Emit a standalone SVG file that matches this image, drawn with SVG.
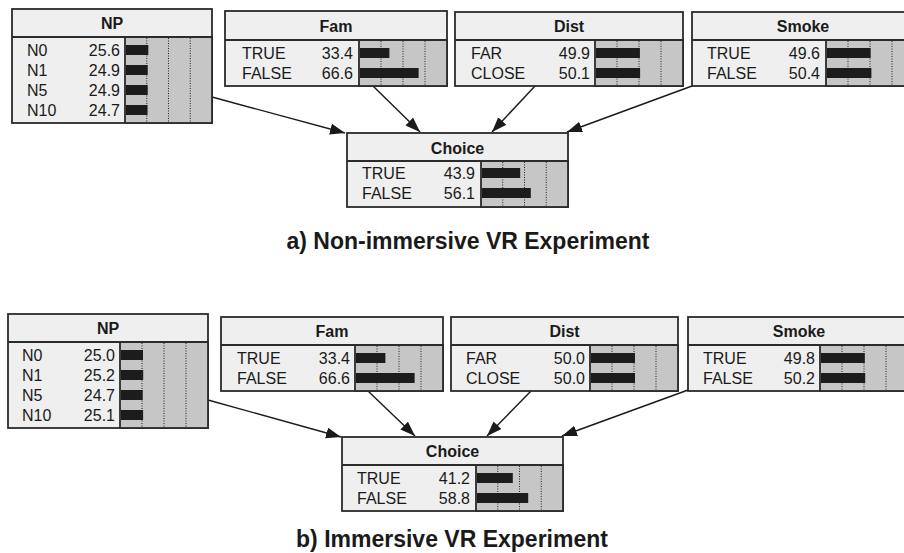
<svg xmlns="http://www.w3.org/2000/svg" width="904" height="553" viewBox="0 0 904 553">
  <style>
    .box { fill: #efefef; stroke: #2b2b2b; stroke-width: 1.8; }
    .sep { stroke: #2b2b2b; stroke-width: 1.8; fill: none; }
    .meter { fill: #c6c6c6; stroke: #2b2b2b; stroke-width: 1.8; }
    .tick { stroke: #222; stroke-width: 1; stroke-dasharray: 1 1.5; }
    .bar { fill: #1c1c1c; }
    .hdr { font-family: "Liberation Sans", Arial, sans-serif; font-weight: bold; font-size: 16px; fill: #1a1a1a; text-anchor: middle; }
    .lbl { font-family: "Liberation Sans", Arial, sans-serif; font-size: 16px; fill: #1a1a1a; }
    .val { font-family: "Liberation Sans", Arial, sans-serif; font-size: 16px; fill: #1a1a1a; text-anchor: end; }
    .edge { stroke: #1a1a1a; stroke-width: 1.4; fill: none; marker-end: url(#arrow); }
    .title { font-family: "Liberation Sans", Arial, sans-serif; font-weight: bold; font-size: 23px; fill: #1a1a1a; text-anchor: middle; }
  </style>
  <defs>
    <marker id="arrow" markerUnits="userSpaceOnUse" markerWidth="16" markerHeight="12" refX="15" refY="5.5" orient="auto">
      <path d="M0,0 L15,5.5 L0,11 z" fill="#1a1a1a"/>
    </marker>
  </defs>
  <rect width="904" height="553" fill="#ffffff"/>

  <!-- a) upper network -->
  <g id="edges-a">
    <line class="edge" x1="212" y1="97" x2="345" y2="133"/>
    <line class="edge" x1="373" y1="86" x2="420" y2="132"/>
    <line class="edge" x1="535" y1="86" x2="492" y2="132"/>
    <line class="edge" x1="692" y1="86" x2="567" y2="132"/>
  </g>

  <g id="np-a" transform="translate(12,9)">
    <rect class="box" x="0" y="0" width="200" height="114"/>
    <rect class="meter" x="113" y="28" width="87" height="86"/>
    <line class="sep" x1="0" y1="28" x2="200" y2="28"/>
    <line class="tick" x1="134.75" y1="29" x2="134.75" y2="113"/>
    <line class="tick" x1="156.5" y1="29" x2="156.5" y2="113"/>
    <line class="tick" x1="178.25" y1="29" x2="178.25" y2="113"/>
    <rect class="bar" x="114" y="36" width="22.3" height="10"/>
    <rect class="bar" x="114" y="56" width="21.7" height="10"/>
    <rect class="bar" x="114" y="76" width="21.7" height="10"/>
    <rect class="bar" x="114" y="96" width="21.5" height="10"/>
    <text class="hdr" x="100" y="20">NP</text>
    <text class="lbl" x="15" y="47">N0</text><text class="val" x="108" y="47">25.6</text>
    <text class="lbl" x="15" y="67">N1</text><text class="val" x="108" y="67">24.9</text>
    <text class="lbl" x="15" y="87">N5</text><text class="val" x="108" y="87">24.9</text>
    <text class="lbl" x="15" y="107">N10</text><text class="val" x="108" y="107">24.7</text>
  </g>

  <g id="fam-a" transform="translate(225,11)">
    <rect class="box" x="0" y="0" width="222" height="75"/>
    <rect class="meter" x="134" y="29" width="88" height="46"/>
    <line class="sep" x1="0" y1="29" x2="222" y2="29"/>
    <line class="tick" x1="156" y1="30" x2="156" y2="74"/>
    <line class="tick" x1="178" y1="30" x2="178" y2="74"/>
    <line class="tick" x1="200" y1="30" x2="200" y2="74"/>
    <rect class="bar" x="135" y="37" width="29.4" height="10"/>
    <rect class="bar" x="135" y="57" width="58.6" height="10"/>
    <text class="hdr" x="111" y="21">Fam</text>
    <text class="lbl" x="17" y="48">TRUE</text><text class="val" x="128" y="48">33.4</text>
    <text class="lbl" x="17" y="68">FALSE</text><text class="val" x="128" y="68">66.6</text>
  </g>

  <g id="dist-a" transform="translate(455,12)">
    <rect class="box" x="0" y="0" width="228" height="74"/>
    <rect class="meter" x="140" y="28" width="88" height="46"/>
    <line class="sep" x1="0" y1="28" x2="228" y2="28"/>
    <line class="tick" x1="162" y1="29" x2="162" y2="73"/>
    <line class="tick" x1="184" y1="29" x2="184" y2="73"/>
    <line class="tick" x1="206" y1="29" x2="206" y2="73"/>
    <rect class="bar" x="141" y="36" width="43.9" height="10"/>
    <rect class="bar" x="141" y="56" width="44.1" height="10"/>
    <text class="hdr" x="114" y="20">Dist</text>
    <text class="lbl" x="16" y="47">FAR</text><text class="val" x="135" y="47">49.9</text>
    <text class="lbl" x="16" y="67">CLOSE</text><text class="val" x="135" y="67">50.1</text>
  </g>

  <g id="smoke-a" transform="translate(692,12)">
    <rect class="box" x="0" y="0" width="222" height="74"/>
    <rect class="meter" x="134" y="28" width="88" height="46"/>
    <line class="sep" x1="0" y1="28" x2="222" y2="28"/>
    <line class="tick" x1="156" y1="29" x2="156" y2="73"/>
    <line class="tick" x1="178" y1="29" x2="178" y2="73"/>
    <line class="tick" x1="200" y1="29" x2="200" y2="73"/>
    <rect class="bar" x="135" y="36" width="43.6" height="10"/>
    <rect class="bar" x="135" y="56" width="44.4" height="10"/>
    <text class="hdr" x="111" y="20">Smoke</text>
    <text class="lbl" x="15" y="47">TRUE</text><text class="val" x="128" y="47">49.6</text>
    <text class="lbl" x="15" y="67">FALSE</text><text class="val" x="128" y="67">50.4</text>
  </g>

  <g id="choice-a" transform="translate(347,133)">
    <rect class="box" x="0" y="0" width="221" height="74"/>
    <rect class="meter" x="134" y="28" width="87" height="46"/>
    <line class="sep" x1="0" y1="28" x2="221" y2="28"/>
    <line class="tick" x1="155.75" y1="29" x2="155.75" y2="73"/>
    <line class="tick" x1="177.5" y1="29" x2="177.5" y2="73"/>
    <line class="tick" x1="199.25" y1="29" x2="199.25" y2="73"/>
    <rect class="bar" x="135" y="35" width="38.2" height="10"/>
    <rect class="bar" x="135" y="55" width="48.8" height="10"/>
    <text class="hdr" x="110.5" y="21">Choice</text>
    <text class="lbl" x="15" y="46">TRUE</text><text class="val" x="128" y="46">43.9</text>
    <text class="lbl" x="15" y="66">FALSE</text><text class="val" x="128" y="66">56.1</text>
  </g>

  <text class="title" x="468" y="249">a) Non-immersive VR Experiment</text>

  <!-- b) lower network -->
  <g id="edges-b">
    <line class="edge" x1="208" y1="400" x2="341" y2="437"/>
    <line class="edge" x1="368" y1="391" x2="415" y2="436"/>
    <line class="edge" x1="531" y1="391" x2="487" y2="436"/>
    <line class="edge" x1="688" y1="390" x2="562" y2="436"/>
  </g>

  <g id="np-b" transform="translate(8,314)">
    <rect class="box" x="0" y="0" width="200" height="114"/>
    <rect class="meter" x="112" y="28" width="88" height="86"/>
    <line class="sep" x1="0" y1="28" x2="200" y2="28"/>
    <line class="tick" x1="134" y1="29" x2="134" y2="113"/>
    <line class="tick" x1="156" y1="29" x2="156" y2="113"/>
    <line class="tick" x1="178" y1="29" x2="178" y2="113"/>
    <rect class="bar" x="113" y="36" width="22" height="10"/>
    <rect class="bar" x="113" y="56" width="22.2" height="10"/>
    <rect class="bar" x="113" y="76" width="21.7" height="10"/>
    <rect class="bar" x="113" y="96" width="22.1" height="10"/>
    <text class="hdr" x="100" y="20">NP</text>
    <text class="lbl" x="14" y="47">N0</text><text class="val" x="107" y="47">25.0</text>
    <text class="lbl" x="14" y="67">N1</text><text class="val" x="107" y="67">25.2</text>
    <text class="lbl" x="14" y="87">N5</text><text class="val" x="107" y="87">24.7</text>
    <text class="lbl" x="14" y="107">N10</text><text class="val" x="107" y="107">25.1</text>
  </g>

  <g id="fam-b" transform="translate(221,317)">
    <rect class="box" x="0" y="0" width="222" height="74"/>
    <rect class="meter" x="134" y="28" width="88" height="46"/>
    <line class="sep" x1="0" y1="28" x2="222" y2="28"/>
    <line class="tick" x1="156" y1="29" x2="156" y2="73"/>
    <line class="tick" x1="178" y1="29" x2="178" y2="73"/>
    <line class="tick" x1="200" y1="29" x2="200" y2="73"/>
    <rect class="bar" x="135" y="36" width="29.4" height="10"/>
    <rect class="bar" x="135" y="56" width="58.6" height="10"/>
    <text class="hdr" x="111" y="20">Fam</text>
    <text class="lbl" x="16" y="47">TRUE</text><text class="val" x="129" y="47">33.4</text>
    <text class="lbl" x="16" y="67">FALSE</text><text class="val" x="129" y="67">66.6</text>
  </g>

  <g id="dist-b" transform="translate(451,317)">
    <rect class="box" x="0" y="0" width="227" height="74"/>
    <rect class="meter" x="139" y="28" width="88" height="46"/>
    <line class="sep" x1="0" y1="28" x2="227" y2="28"/>
    <line class="tick" x1="161" y1="29" x2="161" y2="73"/>
    <line class="tick" x1="183" y1="29" x2="183" y2="73"/>
    <line class="tick" x1="205" y1="29" x2="205" y2="73"/>
    <rect class="bar" x="140" y="36" width="44" height="10"/>
    <rect class="bar" x="140" y="56" width="44" height="10"/>
    <text class="hdr" x="113.5" y="20">Dist</text>
    <text class="lbl" x="15" y="47">FAR</text><text class="val" x="134" y="47">50.0</text>
    <text class="lbl" x="15" y="67">CLOSE</text><text class="val" x="134" y="67">50.0</text>
  </g>

  <g id="smoke-b" transform="translate(688,317)">
    <rect class="box" x="0" y="0" width="222" height="74"/>
    <rect class="meter" x="132" y="28" width="88" height="46"/>
    <line class="sep" x1="0" y1="28" x2="222" y2="28"/>
    <line class="tick" x1="154" y1="29" x2="154" y2="73"/>
    <line class="tick" x1="176" y1="29" x2="176" y2="73"/>
    <line class="tick" x1="198" y1="29" x2="198" y2="73"/>
    <rect class="bar" x="133" y="36" width="43.8" height="10"/>
    <rect class="bar" x="133" y="56" width="44.2" height="10"/>
    <text class="hdr" x="111" y="20">Smoke</text>
    <text class="lbl" x="15" y="47">TRUE</text><text class="val" x="127" y="47">49.8</text>
    <text class="lbl" x="15" y="67">FALSE</text><text class="val" x="127" y="67">50.2</text>
  </g>

  <g id="choice-b" transform="translate(342,437)">
    <rect class="box" x="0" y="0" width="221" height="74"/>
    <rect class="meter" x="134" y="28" width="87" height="46"/>
    <line class="sep" x1="0" y1="28" x2="221" y2="28"/>
    <line class="tick" x1="155.75" y1="29" x2="155.75" y2="73"/>
    <line class="tick" x1="177.5" y1="29" x2="177.5" y2="73"/>
    <line class="tick" x1="199.25" y1="29" x2="199.25" y2="73"/>
    <rect class="bar" x="135" y="36" width="35.8" height="10"/>
    <rect class="bar" x="135" y="56" width="51.2" height="10"/>
    <text class="hdr" x="110.5" y="20">Choice</text>
    <text class="lbl" x="15" y="47">TRUE</text><text class="val" x="128" y="47">41.2</text>
    <text class="lbl" x="15" y="67">FALSE</text><text class="val" x="128" y="67">58.8</text>
  </g>

  <text class="title" x="452" y="547">b) Immersive VR Experiment</text>
</svg>
